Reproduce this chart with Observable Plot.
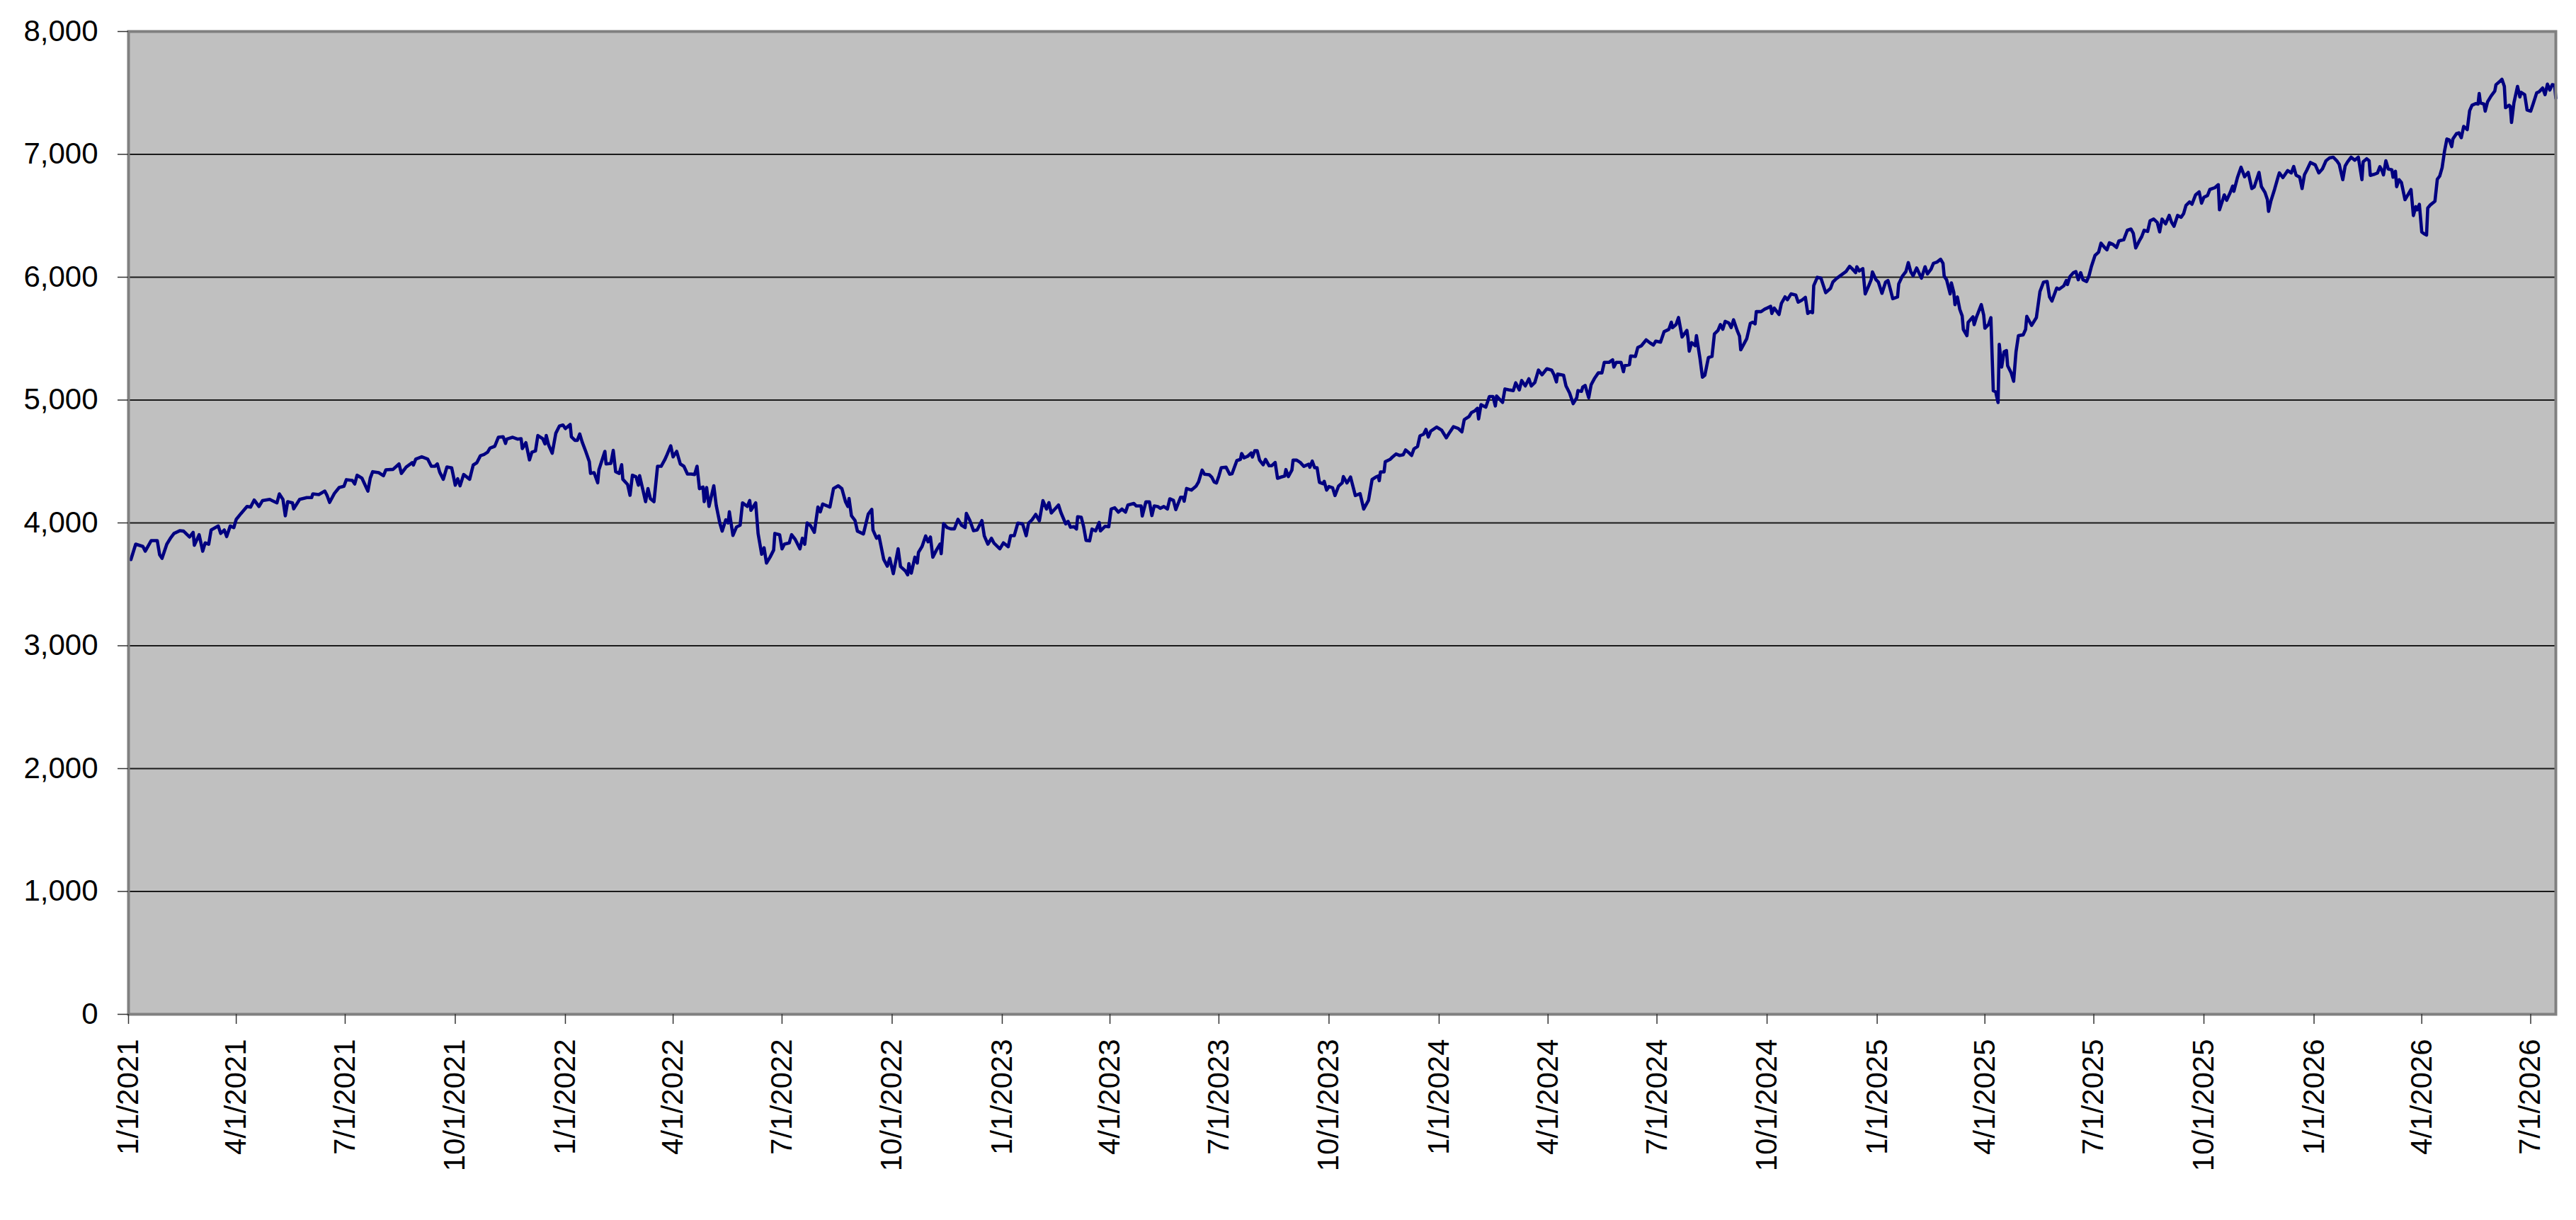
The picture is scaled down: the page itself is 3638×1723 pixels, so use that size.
<!DOCTYPE html>
<html>
<head>
<meta charset="utf-8">
<script src="https://cdn.jsdelivr.net/npm/d3@7"></script>
<script src="https://cdn.jsdelivr.net/npm/@observablehq/plot@0.6"></script>
<style>
  html, body { margin: 0; padding: 0; background: #fff; }
  #chart svg { display: block; }
</style>
</head>
<body>
<div id="chart"></div>
<script>
// Observations: [days since 1/1/2021, index level]
const obs2021 = [[2,3702],[6,3827],[12,3808],[14,3770],[19,3856],[24,3856],[26,3741],[28,3712],[32,3827],[35,3875],[38,3914],[43,3937],[46,3933],[51,3885],[54,3923],[55,3818],[59,3904],[62,3770],[64,3837],[67,3827],[69,3942],[75,3975],[77,3914],[80,3942],[82,3889],[85,3975],[88,3962],[90,4029],[94,4077],[99,4134],[102,4129],[105,4186],[109,4134],[112,4182],[118,4192],[120,4182],[124,4163],[126,4236],[129,4192],[131,4058],[133,4173],[137,4163],[138,4115],[143,4192],[149,4206],[153,4206],[154,4236],[159,4231],[164,4259],[166,4221],[168,4167],[172,4240],[176,4288],[180,4298],[182,4352],[187,4346],[189,4317],[191,4388],[195,4365],[200,4259],[202,4365],[204,4417],[209,4409],[213,4384],[215,4432],[221,4436],[226,4480],[228,4403],[232,4455],[237,4490],[238,4471],[240,4519],[245,4538],[250,4519],[253,4461],[256,4461],[258,4480],[260,4413],[263,4355],[266,4455],[270,4448],[272,4355],[273,4307],[275,4359],[277,4302],[280,4394],[285,4355],[288,4471],[291,4490],[294,4547],[297,4557],[300,4576],[302,4609],[306,4624],[309,4697],[313,4701],[315,4647],[316,4682],[321,4697],[325,4682],[328,4686],[329,4605],[332,4653],[335,4513],[337,4576],[340,4586],[342,4711],[346,4686],[348,4643],[349,4711],[351,4634],[354,4567],[357,4730],[360,4788],[363,4797]];
const obs2022 = [[365,4768],[369,4801],[370,4701],[373,4672],[375,4672],[377,4724],[379,4659],[382,4582],[385,4499],[386,4403],[389,4409],[392,4327],[393,4432],[398,4582],[399,4480],[403,4484],[405,4590],[407,4417],[410,4403],[412,4474],[413,4355],[417,4313],[419,4225],[421,4388],[424,4375],[426,4307],[427,4384],[430,4259],[432,4173],[434,4279],[436,4198],[439,4173],[442,4461],[445,4461],[448,4513],[450,4557],[453,4628],[455,4538],[458,4582],[461,4480],[464,4461],[467,4398],[470,4398],[473,4394],[475,4461],[477,4279],[480,4292],[481,4173],[483,4288],[485,4134],[489,4302],[491,4144],[494,4000],[496,3933],[499,4025],[501,4000],[502,4090],[505,3898],[508,3967],[511,3981],[513,4163],[517,4134],[519,4182],[520,4102],[524,4163],[526,3914],[529,3745],[531,3798],[533,3673],[536,3721],[539,3779],[540,3914],[544,3904],[546,3789],[548,3827],[552,3837],[554,3904],[557,3866],[561,3789],[563,3875],[565,3827],[567,4000],[570,3975],[573,3923],[576,4129],[578,4090],[580,4154],[586,4129],[589,4279],[593,4302],[596,4279],[599,4173],[601,4134],[602,4198],[604,4058],[607,4019],[609,3933],[614,3910],[618,4071],[621,4110],[622,3942],[625,3875],[627,3894],[631,3702],[634,3648],[636,3712],[639,3587],[643,3789],[645,3645],[649,3610],[651,3577],[652,3668],[654,3591],[657,3721],[659,3673],[660,3760],[663,3808],[666,3894],[668,3846],[670,3885],[672,3721],[675,3779],[678,3827],[679,3750],[681,3994],[684,3962],[687,3952],[690,3952],[693,4029],[696,3981],[699,3962],[700,4077],[703,4019],[706,3937],[709,3942],[713,4019],[715,3894],[718,3827],[721,3875],[723,3837],[728,3789]];
const obs2023 = [[731,3837],[735,3806],[737,3896],[740,3896],[743,3998],[747,3992],[750,3896],[752,3998],[755,4027],[758,4069],[761,4017],[764,4181],[767,4113],[769,4165],[771,4081],[777,4146],[779,4085],[783,3992],[785,4012],[787,3965],[790,3969],[792,3950],[793,4050],[796,4046],[798,3969],[800,3858],[803,3854],[805,3950],[808,3935],[811,4004],[812,3935],[816,3973],[819,3969],[821,4113],[824,4123],[827,4088],[830,4113],[833,4088],[835,4146],[840,4158],[842,4138],[846,4138],[847,4056],[850,4171],[853,4171],[855,4060],[857,4138],[860,4133],[862,4119],[865,4133],[868,4113],[870,4196],[873,4184],[875,4108],[879,4209],[881,4209],[882,4177],[884,4280],[888,4267],[892,4300],[894,4334],[897,4430],[899,4396],[903,4392],[905,4373],[907,4334],[909,4325],[911,4382],[913,4450],[917,4453],[920,4396],[922,4401],[926,4507],[929,4517],[930,4565],[932,4530],[935,4542],[938,4569],[939,4536],[941,4588],[943,4588],[945,4511],[948,4473],[950,4517],[953,4465],[955,4465],[958,4492],[960,4363],[963,4373],[966,4382],[967,4434],[969,4377],[972,4430],[973,4511],[976,4511],[979,4492],[982,4460],[986,4478],[987,4453],[989,4503],[991,4450],[993,4450],[995,4330],[998,4319],[999,4338],[1001,4267],[1003,4296],[1006,4286],[1008,4223],[1011,4300],[1014,4325],[1015,4377],[1018,4325],[1021,4373],[1025,4223],[1029,4238],[1032,4113],[1036,4184],[1039,4353],[1042,4373],[1044,4382],[1045,4344],[1046,4415],[1049,4415],[1050,4498],[1054,4517],[1056,4536],[1059,4561],[1062,4549],[1065,4555],[1067,4594],[1070,4569],[1072,4549],[1074,4603],[1077,4622],[1079,4709],[1082,4722],[1084,4761],[1086,4699],[1088,4747],[1093,4780]];
const obs2024 = [[1097,4756],[1101,4693],[1103,4725],[1107,4783],[1111,4769],[1114,4741],[1116,4841],[1120,4866],[1122,4898],[1125,4914],[1127,4933],[1128,4846],[1130,4962],[1134,4942],[1137,5029],[1140,5029],[1142,4952],[1143,5033],[1148,4981],[1150,5090],[1153,5083],[1157,5077],[1159,5140],[1162,5083],[1164,5159],[1167,5115],[1170,5173],[1172,5115],[1175,5144],[1178,5244],[1181,5206],[1185,5255],[1189,5244],[1191,5206],[1193,5148],[1194,5211],[1197,5206],[1199,5202],[1201,5115],[1204,5058],[1207,4971],[1210,5019],[1211,5077],[1214,5071],[1215,5106],[1217,5119],[1220,5019],[1222,5125],[1225,5179],[1228,5221],[1231,5221],[1233,5307],[1237,5307],[1240,5327],[1241,5269],[1243,5307],[1247,5307],[1249,5231],[1250,5279],[1254,5288],[1255,5359],[1259,5355],[1261,5428],[1264,5442],[1268,5490],[1271,5467],[1274,5448],[1276,5480],[1280,5471],[1283,5557],[1287,5576],[1289,5634],[1290,5590],[1293,5615],[1295,5672],[1298,5513],[1302,5567],[1303,5499],[1304,5398],[1306,5467],[1309,5442],[1310,5524],[1313,5336],[1315,5186],[1317,5202],[1320,5346],[1323,5355],[1325,5538],[1328,5567],[1330,5615],[1332,5576],[1334,5640],[1337,5628],[1339,5590],[1341,5653],[1344,5567],[1346,5519],[1347,5409],[1352,5499],[1355,5624],[1357,5634],[1359,5620],[1360,5720],[1364,5720],[1367,5740],[1369,5749],[1372,5763],[1373,5705],[1375,5749],[1379,5697],[1381,5788],[1384,5840],[1386,5817],[1389,5864],[1393,5855],[1395,5797],[1398,5813],[1401,5836],[1403,5705],[1405,5720],[1407,5711],[1408,5932],[1411,5999],[1414,5993],[1418,5874],[1422,5909],[1424,5961],[1427,5989],[1431,6018],[1435,6047],[1438,6089],[1440,6070],[1443,6037],[1444,6085],[1446,6051],[1449,6070],[1451,5864],[1454,5932],[1456,5980],[1457,6043],[1460,5980]];
const obs2025 = [[1462,5960],[1465,5869],[1468,5960],[1470,5973],[1472,5902],[1474,5825],[1478,5839],[1479,5946],[1482,6008],[1485,6046],[1487,6119],[1489,6046],[1491,6012],[1494,6075],[1498,5992],[1501,6085],[1503,6027],[1506,6065],[1508,6113],[1511,6123],[1514,6146],[1516,6113],[1517,6008],[1519,5979],[1522,5864],[1523,5954],[1525,5877],[1526,5777],[1528,5839],[1530,5739],[1532,5685],[1533,5575],[1536,5524],[1537,5633],[1541,5677],[1542,5614],[1544,5677],[1548,5777],[1550,5691],[1551,5585],[1554,5614],[1556,5671],[1558,5076],[1560,5066],[1562,4980],[1563,5454],[1565,5268],[1567,5393],[1569,5403],[1570,5279],[1573,5220],[1575,5153],[1577,5393],[1579,5524],[1583,5531],[1585,5575],[1586,5681],[1590,5608],[1594,5671],[1597,5883],[1600,5960],[1603,5965],[1605,5839],[1607,5806],[1611,5912],[1613,5902],[1617,5931],[1619,5973],[1620,5940],[1622,6004],[1625,6037],[1627,6046],[1629,5979],[1631,6037],[1633,5979],[1636,5965],[1638,6012],[1640,6088],[1643,6177],[1646,6204],[1648,6277],[1651,6242],[1653,6223],[1655,6280],[1658,6267],[1661,6242],[1663,6296],[1667,6305],[1670,6382],[1673,6392],[1675,6357],[1677,6238],[1680,6296],[1682,6330],[1684,6382],[1687,6373],[1689,6459],[1692,6473],[1695,6446],[1697,6369],[1699,6473],[1702,6434],[1705,6503],[1707,6446],[1709,6415],[1712,6503],[1715,6488],[1717,6517],[1719,6584],[1722,6613],[1724,6594],[1727,6670],[1730,6695],[1732,6603],[1734,6651],[1737,6665],[1739,6715],[1743,6728],[1746,6753],[1747,6549],[1750,6638],[1751,6670],[1753,6626],[1756,6690],[1758,6742],[1759,6699],[1762,6811],[1765,6895],[1768,6818],[1771,6853],[1774,6722],[1776,6734],[1780,6853],[1782,6738],[1785,6690],[1787,6632],[1788,6536],[1790,6622],[1793,6715],[1796,6818],[1797,6849],[1800,6811],[1804,6868],[1807,6849],[1809,6901],[1811,6830],[1814,6815],[1816,6722],[1818,6834],[1820,6872],[1823,6934]];
const obs2026 = [[1827,6914],[1830,6849],[1833,6882],[1836,6948],[1839,6971],[1842,6977],[1845,6948],[1847,6919],[1850,6794],[1852,6906],[1854,6939],[1857,6977],[1860,6952],[1863,6977],[1866,6794],[1867,6939],[1870,6964],[1872,6948],[1873,6829],[1876,6837],[1879,6848],[1881,6900],[1883,6862],[1884,6833],[1886,6948],[1888,6881],[1891,6875],[1892,6814],[1894,6862],[1895,6737],[1897,6794],[1899,6771],[1902,6631],[1904,6664],[1907,6714],[1909,6502],[1911,6574],[1912,6549],[1914,6593],[1916,6368],[1918,6353],[1920,6343],[1921,6564],[1923,6587],[1927,6618],[1929,6798],[1931,6823],[1933,6891],[1935,7025],[1937,7125],[1939,7117],[1941,7063],[1942,7125],[1945,7169],[1947,7175],[1949,7136],[1951,7227],[1954,7202],[1956,7355],[1958,7400],[1961,7413],[1963,7409],[1964,7496],[1965,7419],[1968,7409],[1969,7352],[1971,7428],[1974,7476],[1977,7515],[1978,7567],[1981,7592],[1983,7611],[1985,7553],[1986,7380],[1989,7400],[1990,7390],[1991,7259],[1993,7419],[1996,7553],[1998,7467],[1999,7505],[2002,7486],[2004,7361],[2007,7352],[2009,7409],[2012,7501],[2014,7509],[2017,7540],[2019,7486],[2021,7572],[2023,7524],[2025,7567],[2027,7563],[2028,7457]];

const startDate = "2021-01-01";
const xTickDates = ["2021-01-01","2021-04-01","2021-07-01","2021-10-01","2022-01-01","2022-04-01","2022-07-01","2022-10-01","2023-01-01","2023-04-01","2023-07-01","2023-10-01","2024-01-01","2024-04-01","2024-07-01","2024-10-01","2025-01-01","2025-04-01","2025-07-01","2025-10-01","2026-01-01","2026-04-01","2026-07-01"];
const yTicks = [0,1000,2000,3000,4000,5000,6000,7000,8000];
const yGrid = [1000,2000,3000,4000,5000,6000,7000];

const base = new Date(startDate + "T00:00:00Z");
const toDate = d => new Date(base.getTime() + d * 864e5);
const data = [...obs2021, ...obs2022, ...obs2023, ...obs2024, ...obs2025, ...obs2026]
  .map(([d, v]) => ({date: toDate(d), value: v}));
const xEnd = data[data.length - 1].date;
const fmtDate = d3.utcFormat("%-m/%-d/%Y");

const chart = Plot.plot({
  width: 3638,
  height: 1723,
  marginLeft: 181,
  marginRight: 29,
  marginTop: 44,
  marginBottom: 291,
  style: {fontFamily: "'Liberation Sans', Arial, sans-serif", fontSize: "42px", color: "#000", background: "#fff"},
  x: {type: "utc", domain: [base, xEnd]},
  y: {domain: [0, 8000]},
  marks: [
    Plot.frame({fill: "#c0c0c0", stroke: null}),
    Plot.ruleY(yGrid, {stroke: "#1a1a1a", strokeWidth: 1.8}),
    Plot.lineY(data, {x: "date", y: "value", stroke: "#000080", strokeWidth: 4.6, strokeLinejoin: "round"}),
    Plot.frame({stroke: "#808080", strokeWidth: 4}),
    Plot.axisY(yTicks, {tickSize: 15, tickPadding: 28, tickFormat: d3.format(","), label: null, stroke: "#333", strokeWidth: 1.5, fill: "#000"}),
    Plot.axisX(xTickDates.map(s => new Date(s + "T00:00:00Z")), {tickSize: 14, tickPadding: 21, tickRotate: -90, tickFormat: fmtDate, label: null, stroke: "#333", strokeWidth: 1.5, fill: "#000"})
  ]
});
document.getElementById("chart").appendChild(chart);
</script>
</body>
</html>
